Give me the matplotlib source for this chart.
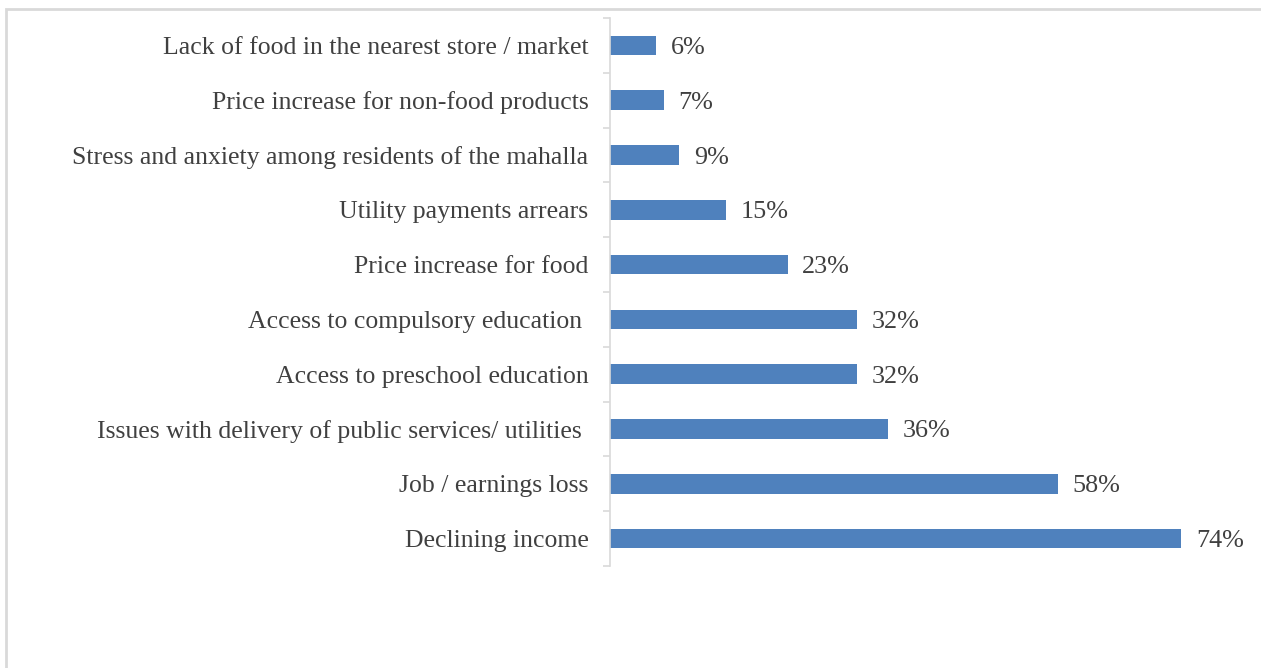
import matplotlib.pyplot as plt
from matplotlib.patches import Rectangle

categories = [
    "Declining income",
    "Job / earnings loss",
    "Issues with delivery of public services/ utilities ",
    "Access to preschool education",
    "Access to compulsory education ",
    "Price increase for food",
    "Utility payments arrears",
    "Stress and anxiety among residents of the mahalla",
    "Price increase for non-food products",
    "Lack of food in the nearest store / market",
]
shares = [74, 58, 36, 32, 32, 23, 15, 9, 7, 6]

W, H = 1261, 668
fig = plt.figure(figsize=(W / 100, H / 100), dpi=100)
plt.rcParams["font.family"] = ["Liberation Serif", "DejaVu Serif"]

# light frame around the chart area
fig.patches.append(Rectangle((6 / W, -0.05), 1.1, 1 - 9 / H + 0.05,
                             transform=fig.transFigure, fill=False,
                             edgecolor="#d9d9d9", linewidth=2))

ax = fig.add_axes([610 / W, 1 - 566 / H, 617.6 / W, 548 / H])
y = range(len(categories))
ax.barh(y, shares, height=0.36, color="#4f81bd", edgecolor="none")
for yi, v in zip(y, shares):
    ax.text(v + 1.9, yi, f"{v}%", va="center_baseline", ha="left",
            fontsize=18.8, color="#404040")

ax.set_xlim(0, 80)
ax.set_ylim(-0.5, len(categories) - 0.5)
ax.set_yticks(list(y))
ax.set_yticklabels(categories, fontsize=18.5, color="#404040",
                   va="center_baseline")
ax.tick_params(axis="y", length=0, pad=15.5)
ax.set_yticks([i - 0.5 for i in range(len(categories) + 1)], minor=True)
ax.tick_params(axis="y", which="minor", length=5, width=1.2, color="#d9d9d9")
ax.set_xticks([])
for s in ["top", "right", "bottom"]:
    ax.spines[s].set_visible(False)
ax.spines["left"].set_color("#d9d9d9")
ax.spines["left"].set_linewidth(1.2)

fig.savefig("out.png", dpi=100)
